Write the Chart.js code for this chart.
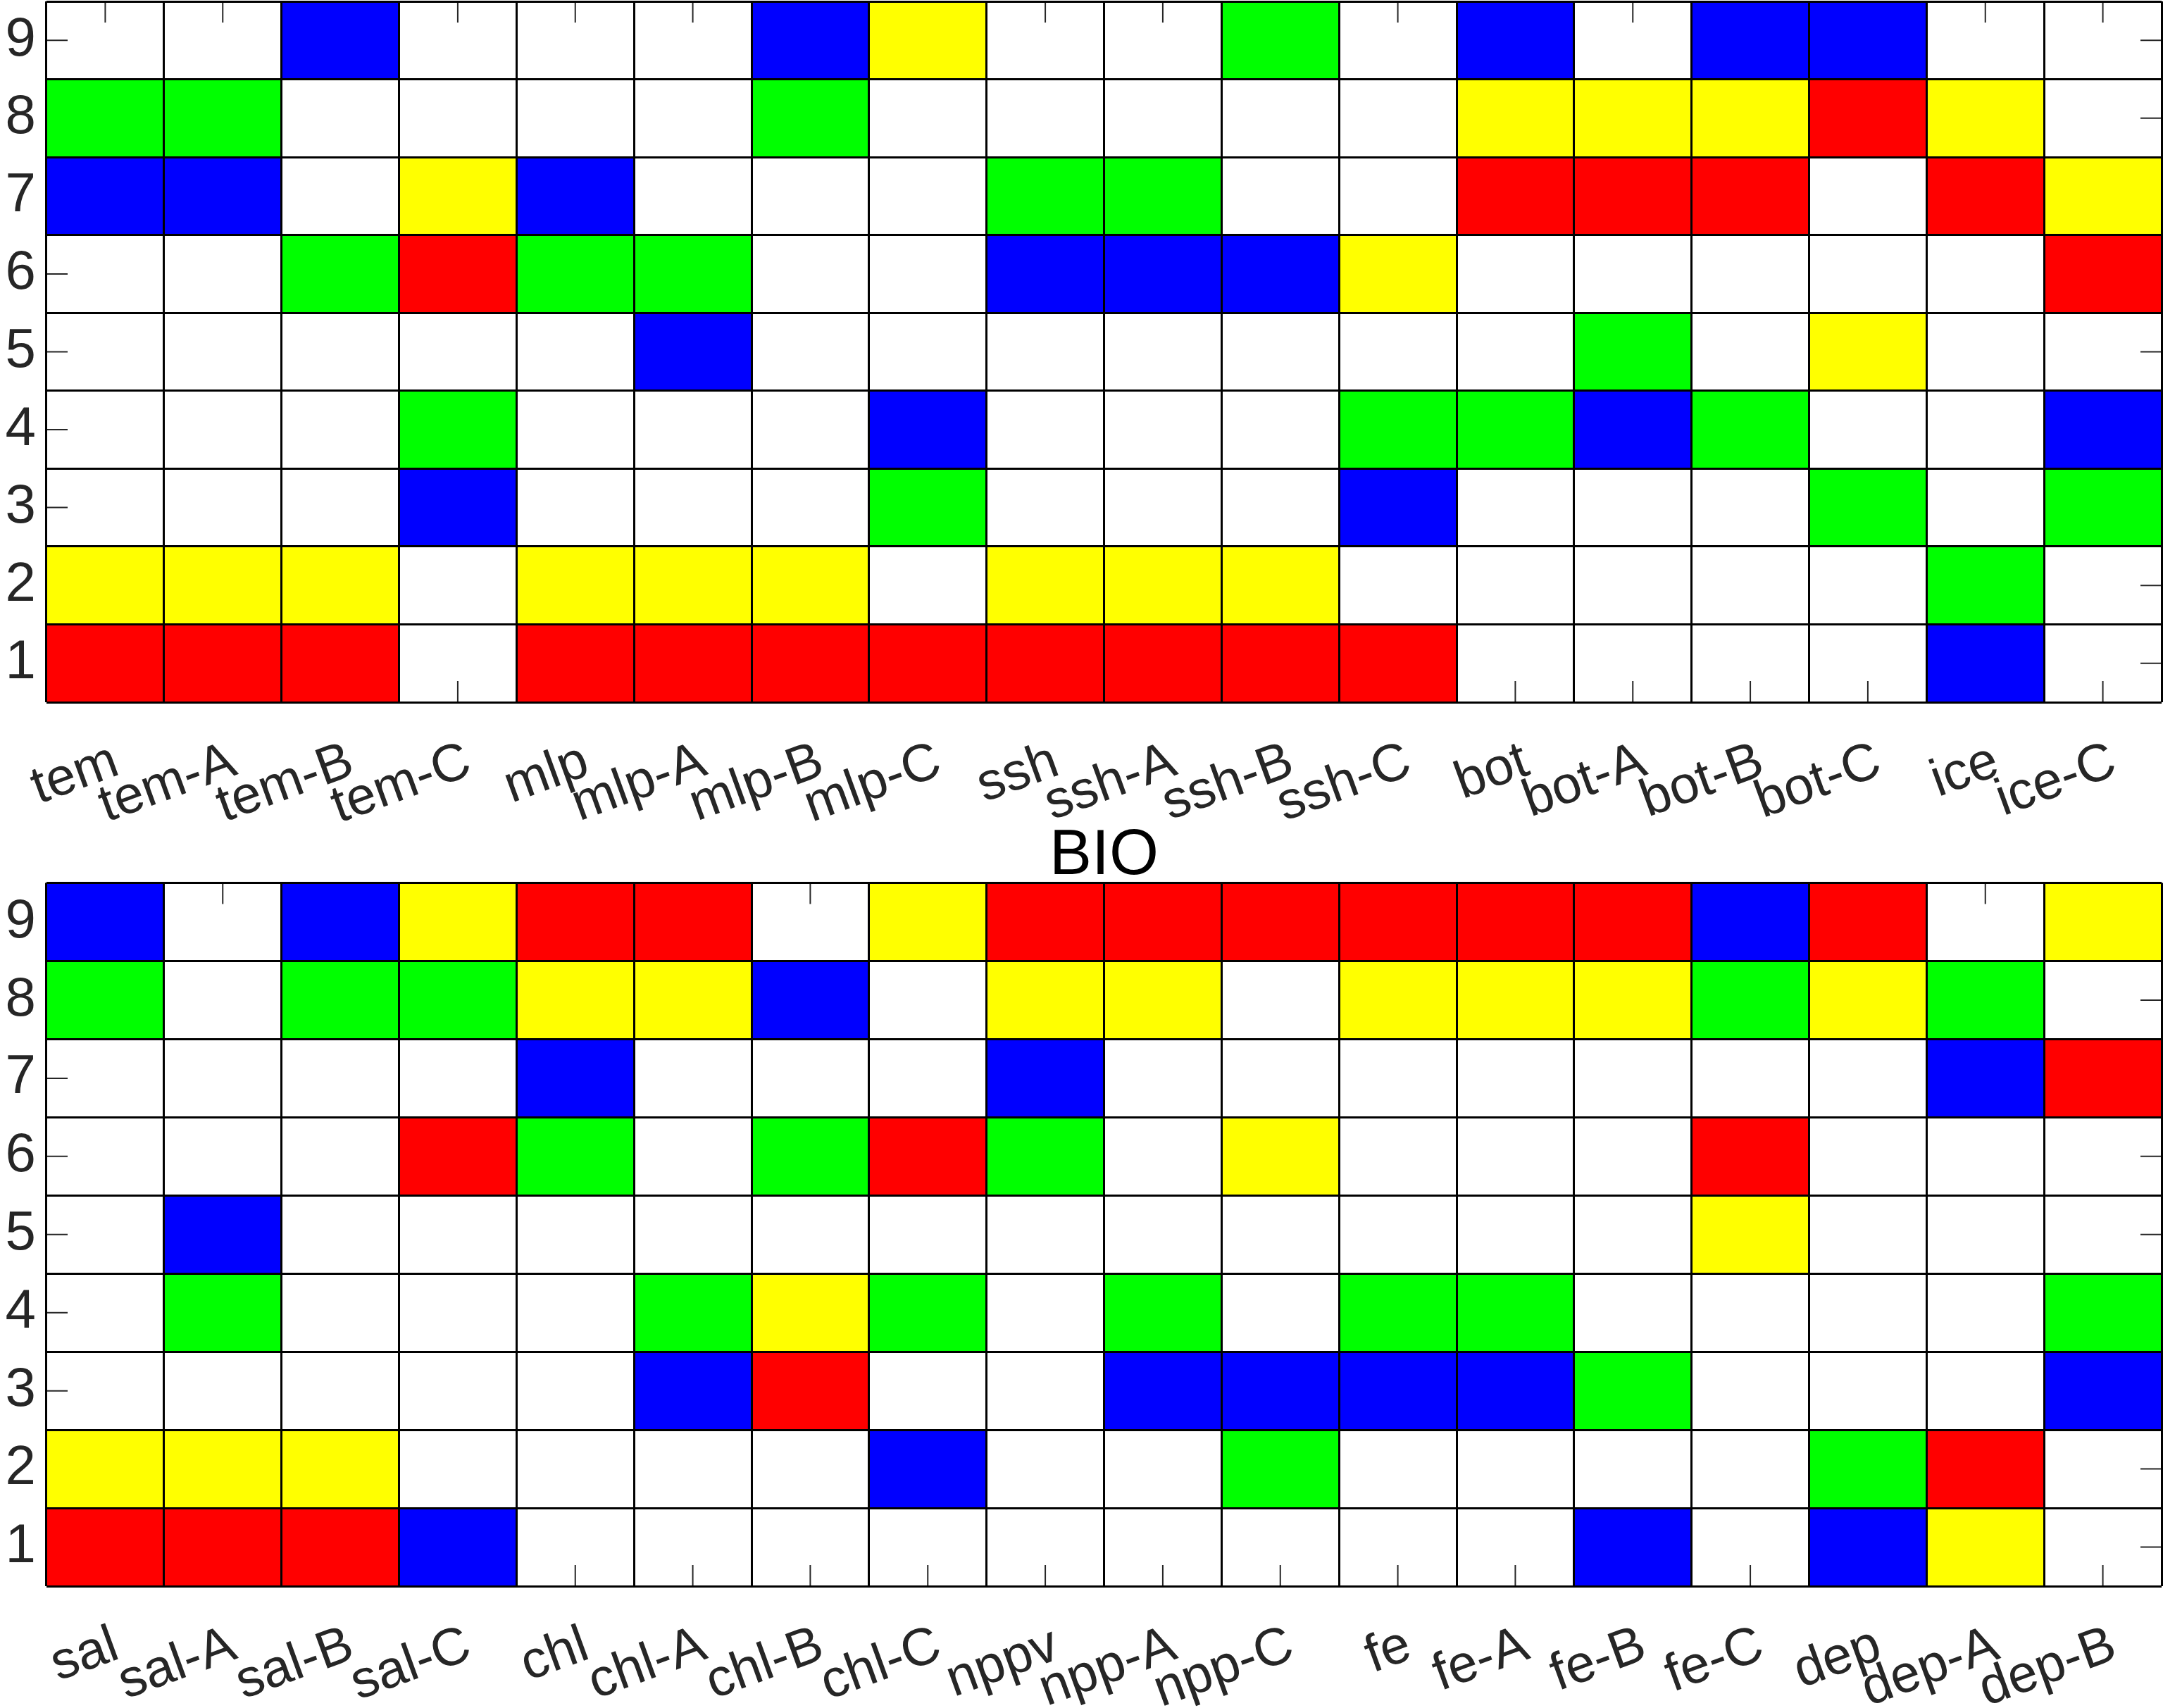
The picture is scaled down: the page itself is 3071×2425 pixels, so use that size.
<!DOCTYPE html>
<html>
<head>
<meta charset="utf-8">
<script src="https://cdn.jsdelivr.net/npm/chart.js@4.4.1/dist/chart.umd.min.js"></script>
<style>
  html, body { margin: 0; padding: 0; background: #fff; }
  body { width: 3071px; height: 2425px; position: relative; overflow: hidden; }
  canvas { position: absolute; left: 0; }
</style>
</head>
<body>
<canvas id="topChart" width="3071" height="1200" style="top:0"></canvas>
<canvas id="bioChart" width="3071" height="1295" style="top:1130px"></canvas>

<script>
// rank rows shown on the y axis
var rows = [1, 2, 3, 4, 5, 6, 7, 8, 9];

// upper panel: for each column, the row where each colour sits
var topLabels = ["tem", "tem-A", "tem-B", "tem-C", "mlp", "mlp-A", "mlp-B", "mlp-C", "ssh", "ssh-A", "ssh-B", "ssh-C", "bot", "bot-A", "bot-B", "bot-C", "ice", "ice-C"];
var topRed    = [1, 1, 1, 6, 1, 1, 1, 1, 1, 1, 1, 1, 7, 7, 7, 8, 7, 6];
var topYellow = [2, 2, 2, 7, 2, 2, 2, 9, 2, 2, 2, 6, 8, 8, 8, 5, 8, 7];
var topGreen  = [8, 8, 6, 4, 6, 6, 8, 3, 7, 7, 9, 4, 4, 5, 4, 3, 2, 3];
var topBlue   = [7, 7, 9, 3, 7, 5, 9, 4, 6, 6, 6, 3, 9, 4, 9, 9, 1, 4];

// lower panel (BIO)
var bioLabels = ["sal", "sal-A", "sal-B", "sal-C", "chl", "chl-A", "chl-B", "chl-C", "nppv", "npp-A", "npp-C", "fe", "fe-A", "fe-B", "fe-C", "dep", "dep-A", "dep-B"];
var bioRed    = [1, 1, 1, 6, 9, 9, 3, 6, 9, 9, 9, 9, 9, 9, 6, 9, 2, 7];
var bioYellow = [2, 2, 2, 9, 8, 8, 4, 9, 8, 8, 6, 8, 8, 8, 5, 8, 1, 9];
var bioGreen  = [8, 4, 8, 8, 6, 4, 6, 4, 6, 4, 2, 4, 4, 3, 8, 2, 8, 4];
var bioBlue   = [9, 5, 9, 1, 7, 3, 8, 2, 7, 3, 3, 3, 3, 1, 9, 1, 7, 3];

var FONT = "'Liberation Sans', Arial, Helvetica, sans-serif";
var TXT = "#262626";

// matlab-like ticks pointing inward, drawn under the coloured cells
var innerTicks = {
  id: "innerTicks",
  beforeDatasetsDraw: function (chart) {
    var ctx = chart.ctx, a = chart.chartArea, x = chart.scales.x, y = chart.scales.y;
    ctx.save();
    ctx.strokeStyle = TXT;
    ctx.lineWidth = 2;
    ctx.beginPath();
    x.ticks.forEach(function (t, i) {
      var px = x.getPixelForTick(i);
      ctx.moveTo(px, a.bottom); ctx.lineTo(px, a.bottom - 30);
      ctx.moveTo(px, a.top); ctx.lineTo(px, a.top + 30);
    });
    y.ticks.forEach(function (t) {
      var py = y.getPixelForValue(t.value);
      ctx.moveTo(a.left, py); ctx.lineTo(a.left + 30, py);
      ctx.moveTo(a.right, py); ctx.lineTo(a.right - 30, py);
    });
    ctx.stroke();
    ctx.restore();
  }
};

function cells(r) {
  return r.map(function (v) { return [v - 0.5, v + 0.5]; });
}

function noPad(s) {
  s.paddingTop = 0; s.paddingBottom = 0; s.paddingLeft = 0; s.paddingRight = 0;
}

function makeChart(id, labels, red, yellow, green, blue, title, labelArea, topPad) {
  var ds = [
    { label: "red", data: cells(red), backgroundColor: "#ff0000" },
    { label: "yellow", data: cells(yellow), backgroundColor: "#ffff00" },
    { label: "green", data: cells(green), backgroundColor: "#00ff00" },
    { label: "blue", data: cells(blue), backgroundColor: "#0000ff" }
  ];
  ds.forEach(function (d) {
    d.grouped = false;
    d.barPercentage = 1;
    d.categoryPercentage = 1;
    d.borderWidth = 0;
  });

  return new Chart(id, {
    type: "bar",
    data: { labels: labels, datasets: ds },
    options: {
      responsive: false,
      animation: false,
      layout: { padding: { top: topPad, right: 2, left: 0, bottom: 0 } },
      plugins: {
        legend: { display: false },
        tooltip: { enabled: false },
        title: {
          display: !!title,
          text: title || "",
          fullSize: false,
          color: "#000",
          font: { family: FONT, size: 90, weight: "normal", lineHeight: 0.84 },
          padding: { top: 48, bottom: 0 }
        }
      },
      scales: {
        x: {
          offset: true,
          grid: { offset: true, color: "#000", lineWidth: 3, z: 1, drawTicks: false },
          border: { display: false },
          ticks: {
            autoSkip: false, minRotation: 20, maxRotation: 20,
            color: TXT, font: { family: FONT, size: 75 },
            padding: 40, labelOffset: 16
          },
          afterFit: function (s) { s.height = labelArea; noPad(s); }
        },
        y: {
          min: 0.5, max: 9.5,
          grid: { display: false, drawTicks: false },
          border: { display: false },
          afterBuildTicks: function (s) { s.ticks = rows.map(function (v) { return { value: v }; }); },
          ticks: { color: TXT, font: { family: FONT, size: 78 }, padding: 15 },
          afterFit: function (s) { s.width = 66; noPad(s); }
        },
        yGrid: {
          position: "right",
          min: 0.5, max: 9.5,
          afterBuildTicks: function (s) {
            s.ticks = rows.map(function (v) { return { value: v - 0.5 }; });
            s.ticks.push({ value: rows[rows.length - 1] + 0.5 });
          },
          ticks: { display: false },
          grid: { color: "#000", lineWidth: 3, z: 1, drawTicks: false },
          border: { display: false },
          afterFit: function (s) { s.width = 0; noPad(s); }
        }
      }
    },
    plugins: [innerTicks]
  });
}

makeChart("topChart", topLabels, topRed, topYellow, topGreen, topBlue, null, 203, 2);
makeChart("bioChart", bioLabels, bioRed, bioYellow, bioGreen, bioBlue, "BIO", 173, 0);
</script>
</body>
</html>
